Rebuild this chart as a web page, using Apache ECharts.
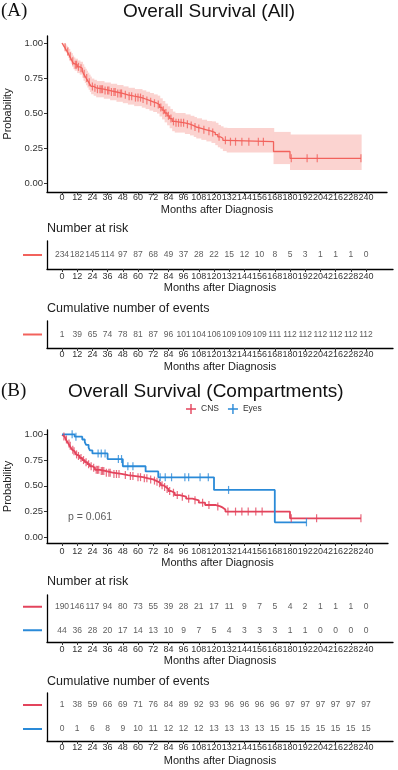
<!DOCTYPE html>
<html>
<head>
<meta charset="utf-8">
<script src="https://cdn.jsdelivr.net/npm/echarts@6/dist/echarts.min.js"></script>
<style>
  html, body { margin: 0; padding: 0; background: #fff; }
  #chart { width: 398px; height: 770px; }
</style>
</head>
<body>
<div id="chart"></div>
<script>
// tick labels shared by every x axis
var xTicks = [0, 12, 24, 36, 48, 60, 72, 84, 96, 108, 120, 132, 144, 156, 168, 180, 192, 204, 216, 228, 240];
var yTicks = [0, 0.25, 0.5, 0.75, 1];

// (A) all patients: KM steps, 95% band, censored times
var timesAll = [0,1,2,3,4,5,6,7,8,9,10,12,14,16,17,18,19,20,21,22,23,25,27,33,38,43,48,52,57,63,66,69,72,75,77,79,81,83,85,87,89,97,101,104,106,110,114,118,121,123,125,127,130,167,180,236];
var survAll = [1,0.985,0.97,0.955,0.94,0.925,0.905,0.89,0.87,0.855,0.845,0.83,0.82,0.8,0.78,0.765,0.75,0.735,0.72,0.705,0.69,0.68,0.67,0.66,0.65,0.64,0.63,0.62,0.61,0.6,0.59,0.58,0.57,0.56,0.54,0.52,0.5,0.48,0.46,0.44,0.43,0.42,0.41,0.4,0.39,0.38,0.37,0.36,0.345,0.33,0.32,0.305,0.295,0.225,0.176,0.176];
var upperAll = [1,0.998,0.99,0.98,0.97,0.958,0.94,0.928,0.91,0.897,
  0.888,0.875,0.866,0.848,0.83,0.816,0.802,0.788,0.774,0.76,
  0.746,0.737,0.728,0.718,0.709,0.7,0.69,0.68,0.671,0.662,
  0.652,0.643,0.633,0.624,0.605,0.586,0.567,0.548,0.529,0.51,
  0.5,0.49,0.48,0.471,0.462,0.452,0.443,0.44,0.43,0.415,
  0.405,0.395,0.392,0.365,0.346,0.346];
var lowerAll = [1,0.97,0.95,0.93,0.91,0.892,0.87,0.852,0.83,0.813,
  0.802,0.785,0.774,0.752,0.73,0.714,0.698,0.682,0.666,0.65,
  0.634,0.623,0.612,0.602,0.591,0.58,0.57,0.56,0.549,0.538,
  0.528,0.517,0.507,0.496,0.475,0.454,0.433,0.412,0.391,0.37,
  0.36,0.35,0.34,0.329,0.318,0.308,0.297,0.286,0.27,0.255,
  0.245,0.228,0.218,0.135,0.093,0.093];
var censorAll = [2.5,4.5,6.5,8.5,10.5,11.5,13,15,17.5,19.5,21.5,24,26,28,30,31,32,34,36,37,39,41,42,44,46,47,50,53,55,58,60,62,64,67,70,73,76,78,80,82,84,86,88,90,92,94,96,99,102,105,108,112,116,119,124,129,133,137,142,147.5,155,159,181,193.5,201.5,236];
var riskAll = [234,182,145,114,97,87,68,49,37,28,22,15,12,10,8,5,3,1,1,1,0];
var eventsAll = [1,39,65,74,78,81,87,96,101,104,106,109,109,109,111,112,112,112,112,112,112];

// (B) compartments
var timesCNS = [0,1,2,3,4,5,6,7,8,9,10,11,12,14,16,18,20,22,24,26,30,34,40,47,52,58,64,68,72,74,76,78,80,82,84,86,89,93,98,103,108,113,121,125,127,129,180,236];
var survCNS = [0.995,0.98,0.965,0.95,0.93,0.91,0.89,0.87,0.85,0.835,0.82,0.805,0.79,0.77,0.75,0.73,0.71,0.69,0.675,0.655,0.645,0.628,0.615,0.604,0.595,0.584,0.573,0.562,0.551,0.54,0.525,0.505,0.488,0.47,0.45,0.433,0.41,0.395,0.375,0.36,0.336,0.314,0.3,0.288,0.27,0.25,0.185,0.185];
var censorCNS = [1.5,3.5,5.5,6.5,8.5,9.5,11.5,13,15,17,19,21,23,25,27,28,29,31,32,33,35,37,38,41,43,45,50,54,56,60,62,65,67,70,73,75,77,79,81,83,85,88,91,95,100,105,111,116,123,131,137,142,147,153,158,181,201,236];
var timesEyes = [0,10,16,18,19,21,22,24,36,48,66,76,120,168,193];
var survEyes = [1,0.977,0.95,0.925,0.898,0.872,0.845,0.815,0.76,0.69,0.64,0.583,0.46,0.146,0.146];
var censorEyes = [8,11,28.5,31,34,44.5,47,52,56,77.5,81.5,86.5,97,100,109,115.5,131.5,193];
var riskCNS = [190,146,117,94,80,73,55,39,28,21,17,11,9,7,5,4,2,1,1,1,0];
var riskEyes = [44,36,28,20,17,14,13,10,9,7,5,4,3,3,3,1,1,0,0,0,0];
var eventsCNS = [1,38,59,66,69,71,76,84,89,92,93,96,96,96,96,97,97,97,97,97,97];
var eventsEyes = [0,1,6,8,9,10,11,12,12,12,13,13,13,13,15,15,15,15,15,15,15];
var pValueText = 'p = 0.061';
var pValueAt = [4.7, 0.194];

var FONT = '"Liberation Sans", Arial, sans-serif';
var RED_A = '#F2625C', BAND_A = '#FBD3D0';
var RED_B = '#E3445C', BLUE_B = '#2A8AD8';
var PX = 304 / 240;          // px per month
var X0 = -15 / PX;           // left edge of every grid, in months
var CROSS = 'path://M4.3,0h1.4v4.3h4.3v1.4h-4.3v4.3h-1.4v-4.3h-4.3v-1.4h4.3z';

function zip(a, b) { return a.map(function (v, i) { return [v, b[i]]; }); }
function survAt(times, surv, t) {
  var s = surv[0];
  for (var i = 0; i < times.length; i++) if (times[i] <= t) s = surv[i];
  return s;
}

function xAxis(grid, width, margin, nameGap) {
  return {
    type: 'value', gridIndex: grid, min: X0, max: X0 + width / PX,
    axisLine: {show: true, onZero: false, lineStyle: {color: '#000', width: 1.3}},
    axisTick: {show: true, length: 3, lineStyle: {color: '#333'}, customValues: xTicks},
    axisLabel: {customValues: xTicks, showMinLabel: true, showMaxLabel: true, hideOverlap: false,
      fontSize: 9, color: '#333', margin: margin, fontFamily: FONT},
    splitLine: {show: false},
    name: 'Months after Diagnosis', nameLocation: 'middle', nameGap: nameGap,
    nameTextStyle: {fontSize: 11, color: '#222', fontFamily: FONT}
  };
}
function yAxisPlot(grid, min, max) {
  return {
    type: 'value', gridIndex: grid, min: min, max: max,
    axisLine: {show: true, onZero: false, lineStyle: {color: '#000', width: 1.3}},
    axisTick: {show: true, length: 3, lineStyle: {color: '#333'}, customValues: yTicks},
    axisLabel: {customValues: yTicks, showMinLabel: true, showMaxLabel: true,
      formatter: function (v) { return v.toFixed(2); },
      fontSize: 9.5, color: '#333', margin: 4, fontFamily: FONT},
    splitLine: {show: false},
    name: 'Probability', nameLocation: 'middle', nameGap: 25,
    nameTextStyle: {fontSize: 11, color: '#222', fontFamily: FONT}
  };
}
function yAxisTable(grid, rows) {
  return {
    type: 'category', gridIndex: grid, data: rows, inverse: true,
    axisLine: {show: true, onZero: false, lineStyle: {color: '#000', width: 1.3}},
    axisTick: {show: false},
    axisLabel: {margin: 5, formatter: function (v) { return '{' + v + '|}'; },
      rich: {
        all: {width: 19, height: 2, backgroundColor: RED_A},
        cns: {width: 19, height: 2, backgroundColor: RED_B},
        eyes: {width: 19, height: 2, backgroundColor: BLUE_B}
      }}
  };
}
function kmLine(name, ax, times, surv, color, width) {
  return {type: 'line', name: name, xAxisIndex: ax, yAxisIndex: ax, step: 'end',
    data: zip(times, surv), symbol: 'none', color: color, silent: true, z: 3,
    lineStyle: {color: color, width: width}};
}
function censorMarks(ax, cens, times, surv, color) {
  return {type: 'scatter', xAxisIndex: ax, yAxisIndex: ax, symbol: 'rect', symbolSize: [1.2, 8],
    data: cens.map(function (t) { return [t, survAt(times, surv, t)]; }),
    itemStyle: {color: color}, silent: true, z: 4};
}
function band(ax, times, lower, upper, color) {
  var data = times.slice(0, -1).map(function (t, i) { return [t, times[i + 1], lower[i], upper[i]]; });
  return {type: 'custom', xAxisIndex: ax, yAxisIndex: ax, data: data, silent: true, z: 1,
    encode: {x: [0, 1], y: [2, 3]},
    renderItem: function (params, api) {
      var a = api.coord([api.value(0), api.value(3)]);
      var b = api.coord([api.value(1), api.value(2)]);
      return {type: 'rect', shape: {x: a[0], y: a[1], width: b[0] - a[0] + 0.7, height: b[1] - a[1]},
        style: {fill: color}};
    }};
}
function tableRow(ax, row, counts) {
  return {type: 'scatter', xAxisIndex: ax, yAxisIndex: ax, symbolSize: 0.1,
    itemStyle: {color: 'rgba(0,0,0,0)'}, silent: true,
    data: counts.map(function (n, i) { return [xTicks[i], row, n]; }),
    label: {show: true, position: 'inside', formatter: function (p) { return p.value[2]; },
      fontSize: 8.5, color: '#333', fontFamily: FONT}};
}

var chart = echarts.init(document.getElementById('chart'), null, {renderer: 'canvas'});

var option = {
  backgroundColor: '#fff',
  animation: false,
  title: [
    {text: '(A)', left: 1, top: 2, padding: 0, textStyle: {fontFamily: '"Liberation Serif", serif', fontSize: 19, fontWeight: 'normal', color: '#111'}},
    {text: 'Overall Survival (All)', left: 123, top: 2, padding: 0, textStyle: {fontFamily: FONT, fontSize: 19, fontWeight: 'normal', color: '#111'}},
    {text: 'Number at risk', left: 47, top: 222, padding: 0, textStyle: {fontFamily: FONT, fontSize: 12.5, fontWeight: 'normal', color: '#222'}},
    {text: 'Cumulative number of events', left: 47, top: 302, padding: 0, textStyle: {fontFamily: FONT, fontSize: 12.5, fontWeight: 'normal', color: '#222'}},
    {text: '(B)', left: 1, top: 382, padding: 0, textStyle: {fontFamily: '"Liberation Serif", serif', fontSize: 19, fontWeight: 'normal', color: '#111'}},
    {text: 'Overall Survival (Compartments)', left: 68, top: 382, padding: 0, textStyle: {fontFamily: FONT, fontSize: 19, fontWeight: 'normal', color: '#111'}},
    {text: 'Number at risk', left: 47, top: 575, padding: 0, textStyle: {fontFamily: FONT, fontSize: 12.5, fontWeight: 'normal', color: '#222'}},
    {text: 'Cumulative number of events', left: 47, top: 675, padding: 0, textStyle: {fontFamily: FONT, fontSize: 12.5, fontWeight: 'normal', color: '#222'}}
  ],
  legend: {
    left: 186, top: 404, itemWidth: 10, itemHeight: 10, itemGap: 9, padding: 0,
    textStyle: {fontFamily: FONT, fontSize: 8.5, color: '#333'},
    data: [{name: 'CNS', icon: CROSS}, {name: 'Eyes', icon: CROSS}]
  },
  grid: [
    {left: 47, top: 36, width: 340, height: 156, outerBoundsMode: 'none'},
    {left: 47, top: 241, width: 346, height: 28, outerBoundsMode: 'none'},
    {left: 47, top: 321, width: 346, height: 27, outerBoundsMode: 'none'},
    {left: 47, top: 430, width: 341, height: 113, outerBoundsMode: 'none'},
    {left: 47, top: 595, width: 346, height: 47, outerBoundsMode: 'none'},
    {left: 47, top: 693, width: 346, height: 48, outerBoundsMode: 'none'}
  ],
  xAxis: [
    xAxis(0, 340, 1, 12),
    xAxis(1, 346, 3, 13),
    xAxis(2, 346, 2, 13),
    xAxis(3, 341, 4, 14),
    xAxis(4, 346, 3, 13),
    xAxis(5, 346, 2, 14)
  ],
  yAxis: [
    yAxisPlot(0, -0.0643, 1.05),
    yAxisTable(1, ['all']),
    yAxisTable(2, ['all']),
    yAxisPlot(3, -0.055, 1.042),
    yAxisTable(4, ['cns', 'eyes']),
    yAxisTable(5, ['cns', 'eyes'])
  ],
  series: [
    band(0, timesAll, lowerAll, upperAll, BAND_A),
    kmLine('All', 0, timesAll, survAll, RED_A, 1.3),
    censorMarks(0, censorAll, timesAll, survAll, RED_A),
    tableRow(1, 'all', riskAll),
    tableRow(2, 'all', eventsAll),

    kmLine('CNS', 3, timesCNS, survCNS, RED_B, 1.8),
    kmLine('Eyes', 3, timesEyes, survEyes, BLUE_B, 1.8),
    censorMarks(3, censorCNS, timesCNS, survCNS, RED_B),
    censorMarks(3, censorEyes, timesEyes, survEyes, BLUE_B),
    {type: 'scatter', xAxisIndex: 3, yAxisIndex: 3, symbolSize: 0.1, silent: true,
      itemStyle: {color: 'rgba(0,0,0,0)'}, data: [pValueAt],
      label: {show: true, position: 'right', distance: 0, formatter: pValueText,
        fontSize: 10.5, color: '#333', fontFamily: FONT}},
    tableRow(4, 'cns', riskCNS),
    tableRow(4, 'eyes', riskEyes),
    tableRow(5, 'cns', eventsCNS),
    tableRow(5, 'eyes', eventsEyes)
  ]
};

chart.setOption(option);
</script>
</body>
</html>
